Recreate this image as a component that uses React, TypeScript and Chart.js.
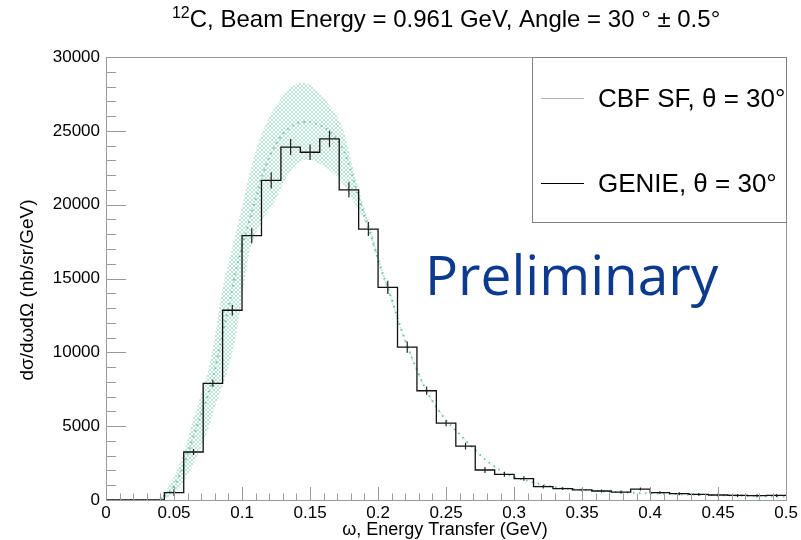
import React, { useEffect, useRef } from 'react';
import { Chart, registerables } from 'chart.js';

Chart.register(...registerables);

const FONT = '"Liberation Sans", Arial, Helvetica, sans-serif';

// ---------- data ----------
const X_MIN = 0;
const X_MAX = 0.5;
const BIN_COUNT = 35;

// GENIE histogram: contents of the 35 bins (nb/sr/GeV)
const genieValues = [
  0, 0, 0, 500, 3250, 7900, 12850, 17900, 21650, 23900, 23550, 24450, 21000, 18350,
  14400, 10350, 7400, 5200, 3650, 2030, 1740, 1450, 900, 770, 680, 610, 540, 740,
  500, 430, 380, 340, 310, 290, 310,
];
// GENIE statistical errors per bin
const genieErrors = [
  0, 0, 0, 225, 200, 225, 360, 510, 550, 540, 530, 560, 510, 470,
  450, 380, 280, 200, 225, 200, 160, 150, 120, 100, 100, 100, 100, 100,
  100, 100, 100, 100, 100, 100, 100,
];

// CBF SF prediction: energy transfer (GeV), central value and uncertainty band
const cbfX = [
  0, 0.03, 0.035, 0.04, 0.045, 0.05, 0.055, 0.06, 0.065, 0.07, 0.075, 0.08, 0.085, 0.09,
  0.095, 0.1, 0.105, 0.11, 0.115, 0.12, 0.125, 0.13, 0.135, 0.14, 0.145, 0.15, 0.155,
  0.16, 0.165, 0.17, 0.175, 0.18, 0.185, 0.19, 0.195, 0.2, 0.205, 0.21, 0.215, 0.22,
  0.225, 0.23, 0.235, 0.24, 0.245, 0.25, 0.26, 0.27, 0.28, 0.29, 0.3, 0.31, 0.32, 0.33,
  0.34, 0.35, 0.36, 0.37, 0.38, 0.39, 0.4, 0.42, 0.44, 0.46, 0.48, 0.5,
];
const cbfCenter = [
  0, 0, 0, 60, 400, 950, 1900, 3100, 4500, 5800, 7100, 8800, 11000, 13000,
  15300, 17200, 18800, 20400, 22000, 23200, 24100, 24800, 25200, 25500, 25600, 25600, 25450,
  25250, 24900, 24400, 23600, 22300, 20700, 19300, 17900, 16300, 14900, 13600, 12100, 10800,
  9600, 8500, 7500, 6700, 6000, 5400, 4450, 3500, 2650, 2000, 1550, 1300, 1050, 880,
  770, 690, 620, 560, 510, 480, 450, 400, 345, 310, 270, 230,
];
const cbfUpper = [
  0, 0, 0, 180, 750, 1550, 2650, 4100, 5700, 7200, 8700, 11000, 14000, 16000,
  17900, 19800, 21900, 23600, 24900, 25900, 26700, 27350, 27850, 28150, 28250, 28100, 27750,
  27250, 26650, 25950, 24900, 23100, 21300, 19700, 18200, 16550, 15100, 13800, 12250, 10950,
  9700, 8600, 7580, 6770, 6060, 5450, 4490, 3530, 2670, 2020, 1560, 1310, 1060, 890,
  780, 695, 625, 565, 515, 485, 455, 405, 350, 315, 275, 235,
];
const cbfLower = [
  0, 0, 0, 0, 150, 450, 950, 1700, 2600, 3600, 4800, 6300, 7600, 9000,
  10900, 13700, 16600, 18000, 18950, 19700, 20400, 21400, 22200, 22750, 23050, 23050, 22850,
  22600, 22300, 21900, 21300, 20500, 19800, 18900, 17600, 16050, 14700, 13400, 11950, 10650,
  9500, 8400, 7420, 6630, 5940, 5350, 4410, 3470, 2630, 1980, 1540, 1290, 1040, 870,
  760, 685, 615, 555, 505, 475, 445, 395, 340, 305, 265, 225,
];

const Y_MAX = 30000;
const Y_STEP = 5000;
const Y_MINOR = 1000;
const X_STEP = 0.05;
const X_MINOR = 0.01;

const TITLE_SUP = '12';
const TITLE_MAIN = 'C, Beam Energy = 0.961 GeV, Angle = 30 \u00B0 \u00B1 0.5\u00B0';
const X_TITLE = '\u03C9, Energy Transfer (GeV)';
const Y_TITLE = 'd\u03C3/d\u03C9d\u03A9 (nb/sr/GeV)';
const LEGEND_CBF = 'CBF SF, \u03B8 = 30\u00B0';
const LEGEND_GENIE = 'GENIE, \u03B8 = 30\u00B0';
const WATERMARK = 'Preliminary';

function fmtX(v: number): string {
  return String(Number(v.toFixed(3)));
}

export default function App() {
  const ref = useRef<HTMLCanvasElement>(null);

  useEffect(() => {
    const canvas = ref.current!;
    const ctx = canvas.getContext('2d')!;

    // cross-hatch pattern for the CBF band
    const pc = document.createElement('canvas');
    pc.width = 4;
    pc.height = 4;
    const p = pc.getContext('2d')!;
    p.strokeStyle = 'rgba(140,210,185,0.75)';
    p.lineWidth = 0.8;
    p.beginPath();
    p.moveTo(0, 0);
    p.lineTo(4, 4);
    p.moveTo(4, 0);
    p.lineTo(0, 4);
    p.stroke();
    const pattern = ctx.createPattern(pc, 'repeat')!;

    const binW = (X_MAX - X_MIN) / BIN_COUNT;
    const histData = genieValues.map((v, i) => ({ x: X_MIN + i * binW, y: v }));
    histData.push({ x: X_MAX, y: genieValues[BIN_COUNT - 1] });

    const errData: { x: number; y: number | null }[] = [];
    genieValues.forEach((v, i) => {
      const e = genieErrors[i];
      if (!e) return;
      const c = X_MIN + (i + 0.5) * binW;
      errData.push({ x: c, y: v - e }, { x: c, y: v + e }, { x: c, y: null });
    });

    const decor = {
      id: 'rootDecor',
      afterDraw(chart: any) {
        const c = chart.ctx as CanvasRenderingContext2D;
        const a = chart.chartArea;
        const xs = chart.scales.x;
        const ys = chart.scales.y;
        c.save();
        // frame
        c.strokeStyle = '#9a9a9a';
        c.lineWidth = 1;
        c.strokeRect(Math.round(a.left) + 0.5, Math.round(a.top) + 0.5, Math.round(a.right - a.left), Math.round(a.bottom - a.top));
        // y ticks (inward)
        c.beginPath();
        for (let v = 0; v <= Y_MAX + 1e-6; v += Y_MINOR) {
          const py = Math.round(ys.getPixelForValue(v)) + 0.5;
          const major = v % Y_STEP === 0;
          c.moveTo(a.left, py);
          c.lineTo(a.left + (major ? 20 : 10), py);
        }
        // x ticks (inward)
        for (let k = 0; k <= Math.round((X_MAX - X_MIN) / X_MINOR); k++) {
          const v = X_MIN + k * X_MINOR;
          const px = Math.round(xs.getPixelForValue(v)) + 0.5;
          const major = k % Math.round(X_STEP / X_MINOR) === 0;
          c.moveTo(px, a.bottom);
          c.lineTo(px, a.bottom - (major ? 13 : 6.5));
        }
        c.stroke();

        // title
        c.fillStyle = '#000';
        c.textBaseline = 'alphabetic';
        c.textAlign = 'left';
        c.font = `24px ${FONT}`;
        const mainW = c.measureText(TITLE_MAIN).width;
        c.font = `16px ${FONT}`;
        const supW = c.measureText(TITLE_SUP).width;
        const tx = (a.left + a.right) / 2 - (mainW + supW) / 2;
        c.fillText(TITLE_SUP, tx, 18);
        c.font = `24px ${FONT}`;
        c.fillText(TITLE_MAIN, tx + supW, 27);

        // axis titles
        c.font = `18px ${FONT}`;
        c.textAlign = 'center';
        c.textBaseline = 'middle';
        c.fillText(X_TITLE, 445, 530);
        c.font = `19px ${FONT}`;
        c.save();
        c.translate(28, 290);
        c.rotate(-Math.PI / 2);
        c.fillText(Y_TITLE, 0, 0);
        c.restore();

        // legend
        c.strokeStyle = '#808080';
        c.lineWidth = 1;
        c.fillStyle = '#fff';
        c.fillRect(532.5, 57.5, a.right - 532.5, 165);
        c.strokeRect(532.5, 57.5, Math.round(a.right) - 532, 165);
        c.lineWidth = 1.2;
        c.strokeStyle = '#b0b0b0';
        c.beginPath();
        c.moveTo(541, 98.5);
        c.lineTo(584, 98.5);
        c.stroke();
        c.strokeStyle = '#000';
        c.beginPath();
        c.moveTo(541, 183.5);
        c.lineTo(584, 183.5);
        c.stroke();
        c.fillStyle = '#000';
        c.font = `26px ${FONT}`;
        c.textAlign = 'left';
        c.textBaseline = 'alphabetic';
        c.fillText(LEGEND_CBF, 598, 107);
        c.fillText(LEGEND_GENIE, 598, 192);

        // watermark
        c.fillStyle = '#0b3a8e';
        c.font = `55px "Open Sans", "Noto Sans", sans-serif`;
        c.fillText(WATERMARK, 425, 295);
        c.restore();
      },
    };

    const chart = new Chart(ctx, {
      type: 'line',
      data: {
        datasets: [
          {
            label: 'band-upper',
            data: cbfX.map((x, i) => ({ x, y: cbfUpper[i] })),
            borderWidth: 0,
            borderColor: 'rgba(0,0,0,0)',
            backgroundColor: pattern as any,
            fill: '+1',
            pointRadius: 0,
            cubicInterpolationMode: 'monotone',
            order: 6,
          },
          {
            label: 'band-lower',
            data: cbfX.map((x, i) => ({ x, y: cbfLower[i] })),
            borderWidth: 0,
            borderColor: 'rgba(0,0,0,0)',
            fill: false,
            pointRadius: 0,
            cubicInterpolationMode: 'monotone',
            order: 5,
          },
          {
            label: 'CBF SF',
            data: cbfX.map((x, i) => ({ x, y: cbfCenter[i] })),
            borderWidth: 2,
            borderColor: 'rgba(90,185,145,0.85)',
            borderDash: [1.5, 4.5],
            fill: false,
            pointRadius: 0,
            cubicInterpolationMode: 'monotone',
            order: 4,
          },
          {
            label: 'GENIE',
            data: histData,
            borderWidth: 1.3,
            borderColor: '#111',
            stepped: 'before',
            fill: false,
            pointRadius: 0,
            order: 2,
          },
          {
            label: 'GENIE errors',
            data: errData as any,
            borderWidth: 1.2,
            borderColor: '#222',
            spanGaps: false,
            fill: false,
            pointRadius: 0,
            order: 1,
          },
        ],
      },
      options: {
        animation: false,
        responsive: false,
        devicePixelRatio: 1,
        layout: { padding: { left: 0, right: 13, top: 57, bottom: 0 } },
        plugins: {
          legend: { display: false },
          tooltip: { enabled: false },
          title: { display: false },
        },
        scales: {
          x: {
            type: 'linear',
            min: X_MIN,
            max: X_MAX,
            grid: { display: false, drawTicks: false },
            border: { display: false },
            ticks: {
              stepSize: X_STEP,
              autoSkip: false,
              maxRotation: 0,
              padding: 3,
              color: '#000',
              font: { family: FONT, size: 17 },
              callback: (v: any) => fmtX(Number(v)),
            },
            afterFit: (s: any) => {
              s.height = 40;
            },
          },
          y: {
            type: 'linear',
            min: 0,
            max: Y_MAX,
            grid: { display: false, drawTicks: false },
            border: { display: false },
            ticks: {
              stepSize: Y_STEP,
              padding: 6,
              color: '#000',
              font: { family: FONT, size: 17 },
              callback: (v: any) => String(v),
            },
            afterFit: (s: any) => {
              s.width = 106;
            },
          },
        },
      },
      plugins: [decor],
    });

    return () => chart.destroy();
  }, []);

  return (
    <div style={{ position: 'fixed', left: 0, top: 0, width: 801, height: 540, background: '#fff' }}>
      <canvas ref={ref} width={801} height={540} style={{ display: 'block' }} />
    </div>
  );
}
